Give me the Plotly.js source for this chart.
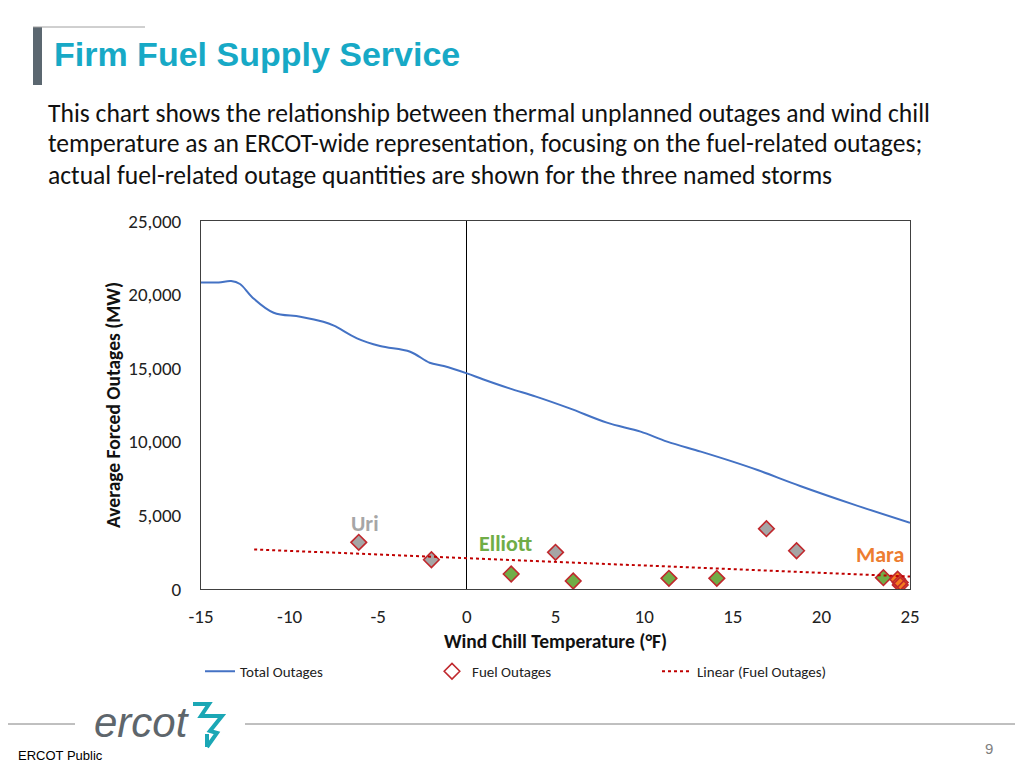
<!DOCTYPE html>
<html>
<head>
<meta charset="utf-8">
<script src="https://cdn.plot.ly/plotly-3.0.1.min.js"></script>
<style>
html,body{margin:0;padding:0;background:#fff;}
#chart{width:1024px;height:768px;}
</style>
</head>
<body>
<div id="chart"></div>
<script>
// ---- data ----
var totalTemp = [-15, -14, -13.3, -12.8, -12.1, -10.9, -9.4, -8.1, -7.5, -6.2, -4.9, -3.2, -2.1, -1.3, 0, 0.9, 2.4, 3.9, 5.8, 7.9, 9.8, 11.3, 13.2, 15.0, 16.4, 18.8, 21.8, 25];
var totalMW   = [20830, 20830, 20920, 20720, 19810, 18770, 18500, 18160, 17890, 17030, 16510, 16120, 15370, 15150, 14650, 14250, 13630, 13070, 12270, 11300, 10690, 10010, 9330, 8650, 8080, 7000, 5750, 4500];

var fuelTemp  = [-6.1, -2.0, 5.0, 16.9, 18.6, 2.5, 6.0, 11.4, 14.1, 23.5, 24.3, 24.45, 24.45];
var fuelMW    = [3170, 1990, 2490, 4100, 2600, 1020, 540, 725, 725, 770, 660, 450, 280];
var fuelStorm = ['Uri', 'Uri', 'Uri', 'Uri', 'Uri', 'Elliott', 'Elliott', 'Elliott', 'Elliott', 'Elliott', 'Mara', 'Mara', 'Mara'];

var trendTemp = [-12, 25];
var trendMW   = [2690, 850];

var stormNames  = ['Uri', 'Elliott', 'Mara'];
var stormLabelX = [-5.75, 2.2, 23.3];
var stormLabelY = [4450, 3100, 2350];

var xTicks = [-15, -10, -5, 0, 5, 10, 15, 20, 25];
var yTicks = [0, 5000, 10000, 15000, 20000, 25000];

var bodyLines = [
  'This chart shows the relationship between thermal unplanned outages and wind chill',
  'temperature as an ERCOT-wide representation, focusing on the fuel-related outages;',
  'actual fuel-related outage quantities are shown for the three named storms'
];

// ---- styles ----
var stormColor = {Uri: '#A5A5A5', Elliott: '#70AD47', Mara: '#F47B20'};
var stormLabelColor = {Uri: '#A6A6A6', Elliott: '#70AD47', Mara: '#ED7D31'};
var calib = 'Carlito, Lato, "Open Sans", sans-serif';

// plot-area pixel box
var L = 201, R = 910, T = 221, B = 589, W = 1024, H = 768;
function px(x) { return (x - L) / (R - L); }
function py(y) { return (B - y) / (B - T); }

var traces = [];
traces.push({
  x: totalTemp, y: totalMW, type: 'scatter', mode: 'lines',
  name: 'Total Outages',
  line: {color: '#4472C4', width: 2, shape: 'spline', smoothing: 1},
  legendwidth: 187
});
// coloured fills per storm
stormNames.forEach(function (s) {
  var xs = [], ys = [];
  for (var i = 0; i < fuelTemp.length; i++) {
    if (fuelStorm[i] === s) { xs.push(fuelTemp[i]); ys.push(fuelMW[i]); }
  }
  traces.push({
    x: xs, y: ys, type: 'scatter', mode: 'markers', showlegend: false,
    marker: {symbol: 'diamond', size: 12, color: stormColor[s], line: {width: 0}},
    hoverinfo: 'skip'
  });
});
// red outline trace (carries the legend entry)
traces.push({
  x: fuelTemp, y: fuelMW, type: 'scatter', mode: 'markers',
  name: 'Fuel Outages',
  marker: {symbol: 'diamond', size: 12, color: 'rgba(255,255,255,0)', line: {color: '#C0282D', width: 1.6}},
  legendwidth: 180
});
traces.push({
  x: trendTemp, y: trendMW, type: 'scatter', mode: 'lines',
  name: 'Linear (Fuel Outages)',
  line: {color: '#C00000', width: 2, dash: 'dot'}
});

var annotations = [];
bodyLines.forEach(function (t, i) {
  annotations.push({
    xref: 'paper', yref: 'paper', x: px(46), y: py(113 + i * 31),
    xanchor: 'left', yanchor: 'middle', showarrow: false, text: t,
    font: {family: calib, size: 25.6, color: '#111111'}
  });
});
stormNames.forEach(function (s, i) {
  annotations.push({
    x: stormLabelX[i], y: stormLabelY[i], xref: 'x', yref: 'y',
    xanchor: 'center', yanchor: 'middle', showarrow: false,
    text: '<b>' + s + '</b>',
    font: {family: calib, size: 22, color: stormLabelColor[s]}
  });
});
annotations.push({
  xref: 'paper', yref: 'paper', x: px(16), y: py(755), xanchor: 'left', yanchor: 'middle',
  showarrow: false, text: 'ERCOT Public',
  font: {family: 'Liberation Sans, Arial, sans-serif', size: 13, color: '#000'}
});
annotations.push({
  xref: 'paper', yref: 'paper', x: px(995), y: py(748), xanchor: 'right', yanchor: 'middle',
  showarrow: false, text: '9',
  font: {family: 'Liberation Sans, Arial, sans-serif', size: 15, color: '#7F7F7F'}
});
annotations.push({
  xref: 'paper', yref: 'paper', x: px(92), y: py(722), xanchor: 'left', yanchor: 'middle',
  showarrow: false, text: '<i>ercot</i>',
  font: {family: 'Liberation Sans Narrow, Liberation Sans, sans-serif', size: 42, color: '#5E666C'}
});

function seg(x0, y0, x1, y1, color, w) {
  return {type: 'line', xref: 'paper', yref: 'paper', x0: px(x0), y0: py(y0), x1: px(x1), y1: py(y1),
          line: {color: color, width: w}};
}
function pathPx(pts, color, w) {
  var d = pts.map(function (p, i) { return (i ? 'L' : 'M') + px(p[0]) + ',' + py(p[1]); }).join(' ');
  return {type: 'path', xref: 'paper', yref: 'paper', path: d, line: {color: color, width: w}};
}
var shapes = [
  // header decoration
  {type: 'rect', xref: 'paper', yref: 'paper', x0: px(33), x1: px(42), y0: py(85), y1: py(27),
   fillcolor: '#5B6770', line: {width: 0}},
  seg(33, 27, 145, 27, '#A0A0A0', 1),
  // footer rules
  seg(8, 724, 75, 724, '#808080', 1),
  seg(245, 724, 1015, 724, '#808080', 1),
  // ercot logo mark (approximate)
  pathPx([[193, 704], [209, 704], [201, 716], [222, 716], [210, 731], [217, 733], [207, 747]], '#1BA7B5', 4),
  pathPx([[207, 747], [207, 734]], '#1BA7B5', 4)
];

var layout = {
  width: W, height: H,
  margin: {l: L, r: W - R, t: T, b: H - B, pad: 0},
  paper_bgcolor: '#fff', plot_bgcolor: '#fff',
  title: {
    text: '<b>Firm Fuel Supply Service</b>',
    xref: 'container', yref: 'container', x: 54 / W, y: 1 - 54 / H, xanchor: 'left', yanchor: 'middle',
    font: {family: 'Liberation Sans, Arial, sans-serif', size: 34, color: '#17A9C6'}
  },
  xaxis: {
    range: [-15, 25], tickvals: xTicks, ticktext: xTicks.map(String),
    showgrid: false, zeroline: true, zerolinecolor: '#000', zerolinewidth: 1,
    showline: true, mirror: true, linecolor: '#404040', linewidth: 1,
    ticks: '', ticklabelstandoff: 10,
    tickfont: {family: calib, size: 19, color: '#222'},
    title: {text: '<b>Wind Chill Temperature (°F)</b>', standoff: 7,
            font: {family: calib, size: 19.5, color: '#111'}}
  },
  yaxis: {
    range: [0, 25000], tickvals: yTicks, tickformat: ',d',
    showgrid: false, zeroline: false,
    showline: true, mirror: true, linecolor: '#404040', linewidth: 1,
    ticks: '', ticklabelstandoff: 15,
    tickfont: {family: calib, size: 19, color: '#222'},
    title: {text: '<b>Average Forced Outages (MW)</b>', standoff: 2,
            font: {family: calib, size: 19.5, color: '#111'}}
  },
  showlegend: true,
  legend: {
    orientation: 'h', x: px(200), y: py(655), xanchor: 'left', yanchor: 'top',
    font: {family: calib, size: 15, color: '#222'}, bgcolor: 'rgba(0,0,0,0)',
    traceorder: 'normal'
  },
  annotations: annotations,
  shapes: shapes
};

Plotly.newPlot('chart', traces, layout, {displayModeBar: false, staticPlot: true});
</script>
</body>
</html>
